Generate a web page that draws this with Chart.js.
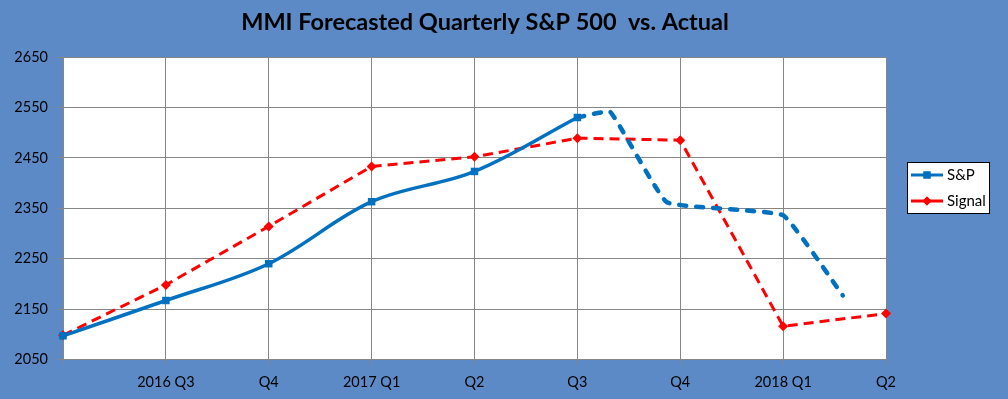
<!DOCTYPE html>
<html>
<head>
<meta charset="utf-8">
<script src="https://cdn.jsdelivr.net/npm/chart.js@4"></script>
<style>
  body { margin: 0; background: #5b8ac6; }
  canvas { display: block; }
</style>
</head>
<body>
<canvas id="grafico" width="1008" height="399"></canvas>
<script>
const quarterLabels = ['', '2016 Q3', 'Q4', '2017 Q1', 'Q2', 'Q3', 'Q4', '2018 Q1', 'Q2'];
const spActual = [2097, 2167, 2240, 2363, 2423, 2530];
const spProjX = [5, 5.32, 5.87, 7, 7.58];
const spProjY = [2530, 2541, 2362, 2336, 2177];
const signalValues = [2098, 2198, 2314, 2433, 2452, 2489, 2485, 2116, 2141];
const yTicks = [2050, 2150, 2250, 2350, 2450, 2550, 2650];

const fonte = 'Lato, "DejaVu Sans", sans-serif';

// fundo azul + area do grafico branca
const fundo = {
  id: 'fundo',
  beforeDraw(chart) {
    const { ctx, chartArea } = chart;
    ctx.save();
    ctx.fillStyle = '#5b8ac6';
    ctx.fillRect(0, 0, chart.width, chart.height);
    ctx.fillStyle = '#ffffff';
    ctx.fillRect(chartArea.left, chartArea.top, chartArea.right - chartArea.left, chartArea.bottom - chartArea.top);
    ctx.restore();
  }
};

// titulo e legenda desenhados a mao
const tituloLegenda = {
  id: 'tituloLegenda',
  afterDraw(chart) {
    const ctx = chart.ctx;
    ctx.save();
    ctx.fillStyle = '#000';
    ctx.font = 'bold 23.5px ' + fonte;
    ctx.textAlign = 'center';
    ctx.textBaseline = 'middle';
    ctx.fillText('MMI Forecasted Quarterly S&P 500  vs. Actual', 485, 22);

    // caixa da legenda
    ctx.fillStyle = '#fff';
    ctx.fillRect(907, 162, 82, 51);
    ctx.strokeStyle = '#000';
    ctx.lineWidth = 1;
    ctx.strokeRect(907.5, 162.5, 82, 51);

    const itens = [
      { nome: 'S&P', cor: '#0070c0', estilo: 'rect', y: 175 },
      { nome: 'Signal', cor: '#ff0000', estilo: 'rectRot', y: 201 }
    ];
    itens.forEach(item => {
      ctx.strokeStyle = item.cor;
      ctx.lineWidth = 3;
      ctx.beginPath();
      ctx.moveTo(911, item.y);
      ctx.lineTo(943, item.y);
      ctx.stroke();
      ctx.fillStyle = item.cor;
      Chart.helpers.drawPoint(ctx, { pointStyle: item.estilo, radius: item.estilo === 'rect' ? 5 : 4.5, borderWidth: 0 }, 927, item.y);
      ctx.fill();
      ctx.fillStyle = '#000';
      ctx.font = '15px ' + fonte;
      ctx.textAlign = 'left';
      ctx.textBaseline = 'middle';
      ctx.fillText(item.nome, 947, item.y);
    });
    ctx.restore();
  }
};

const dadosGrafico = document.getElementById('grafico');

const grafico = new Chart(dadosGrafico, {
  type: 'line',
  data: {
    datasets: [
      {
        label: 'S&P',
        data: spActual.map((v, i) => ({ x: i, y: v })),
        borderColor: '#0070c0',
        backgroundColor: '#0070c0',
        borderWidth: 3.5,
        tension: 0.35,
        pointStyle: 'rect',
        pointRadius: 5.3,
        pointBorderWidth: 0,
        clip: false
      },
      {
        label: 'S&P projetado',
        data: spProjX.map((x, i) => ({ x: x, y: spProjY[i] })),
        borderColor: '#0070c0',
        borderWidth: 4.5,
        borderDash: [7, 10],
        borderCapStyle: 'round',
        tension: 0.1,
        pointRadius: 0,
        clip: false
      },
      {
        label: 'Signal',
        data: signalValues.map((v, i) => ({ x: i, y: v })),
        borderColor: '#ff0000',
        backgroundColor: '#ff0000',
        borderWidth: 3,
        borderDash: [10, 6],
        tension: 0,
        pointStyle: 'rectRot',
        pointRadius: 5,
        pointBorderWidth: 0,
        clip: false
      }
    ]
  },
  options: {
    responsive: false,
    animation: false,
    layout: { padding: { top: 57, right: 122, left: 0, bottom: 0 } },
    plugins: {
      legend: { display: false },
      title: { display: false },
      tooltip: { enabled: false }
    },
    scales: {
      x: {
        type: 'linear',
        min: 0,
        max: quarterLabels.length - 1,
        afterFit: scale => { scale.height = 39.5; },
        afterBuildTicks: scale => { scale.ticks = quarterLabels.map((l, i) => ({ value: i })); },
        grid: { color: '#868686', tickLength: 5 },
        border: { color: '#868686' },
        ticks: {
          color: '#000',
          padding: 9,
          maxRotation: 0,
          autoSkip: false,
          font: { family: fonte, size: 14.5 },
          callback: v => quarterLabels[v]
        }
      },
      y: {
        min: yTicks[0],
        max: yTicks[yTicks.length - 1],
        afterFit: scale => { scale.width = 63; },
        afterBuildTicks: scale => { scale.ticks = yTicks.map(v => ({ value: v })); },
        grid: { color: '#868686', tickLength: 6 },
        border: { color: '#868686' },
        ticks: {
          color: '#000',
          padding: 9,
          font: { family: fonte, size: 14.5 },
          callback: v => String(v)
        }
      }
    }
  },
  plugins: [fundo, tituloLegenda]
});
</script>
</body>
</html>
